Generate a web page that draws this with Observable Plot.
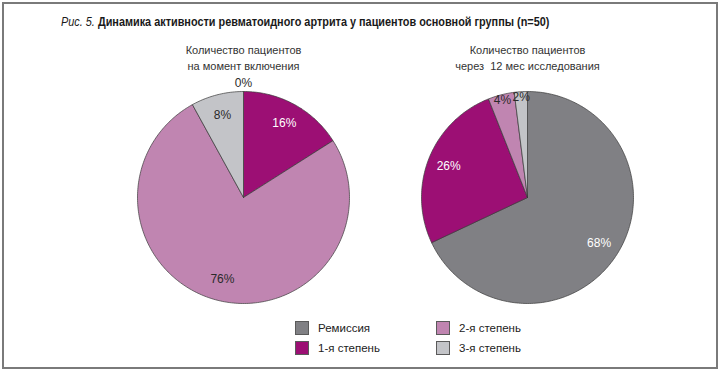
<!DOCTYPE html>
<html>
<head>
<meta charset="utf-8">
<script src="https://cdn.jsdelivr.net/npm/d3@7"></script>
<script src="https://cdn.jsdelivr.net/npm/@observablehq/plot@0.6"></script>
<style>
  html, body { margin: 0; padding: 0; background: #fff; }
  body { width: 720px; height: 371px; overflow: hidden; font-family: "Liberation Sans", Arial, sans-serif; color: #222; }
  #page { position: relative; width: 720px; height: 371px; }
  #frame { position: absolute; left: 2px; top: 2px; width: 712px; height: 363px; border: 2px solid #7a7a7a; }
  #title { position: absolute; left: 61px; top: 15px; font-size: 12.5px; font-weight: bold; white-space: nowrap; color: #1a1a1a; transform: scaleX(0.87); transform-origin: 0 50%; }
  #title i { font-weight: normal; }
  #chart { position: absolute; left: 0; top: 40px; }
  .legend-item { position: absolute; font-size: 11.5px; color: #222; display: flex; align-items: center; white-space: nowrap; height: 14px; }
  .legend-item span.sw { display: inline-block; width: 12px; height: 12px; border: 1px solid #5a5a5a; margin-right: 9px; }
</style>
</head>
<body>
<div id="page">
  <div id="frame"></div>
  <div id="title"></div>
  <div id="chart"></div>
  <div id="legend"></div>
</div>
<script>
// ---- data ----
const titlePrefix = "Рис. 5.";
const titleText = " Динамика активности ревматоидного артрита у пациентов основной группы (n=50)";
const categories = ["Ремиссия", "1-я степень", "2-я степень", "3-я степень"];
const colors = ["#808084", "#9c0f74", "#c085b1", "#c3c4c8"];
const labelColors = ["#ffffff", "#ffffff", "#2a2a2a", "#2a2a2a"];
const pieTitles = [
  ["Количество пациентов", "на момент включения"],
  ["Количество пациентов", "через  12 мес исследования"]
];
const valuesStart = [0, 16, 76, 8];
const valuesEnd = [68, 26, 4, 2];
const series = [valuesStart, valuesEnd];

// ---- layout ----
const W = 720, H = 270;
const R = 106;             // pie radius in px
const cx0 = 243, cy = 157; // left pie centre (svg px)
const gap = 284;           // distance between pie centres (px)
const titleTop = 13, titleLH = 16; // pie title baselines (svg px)

document.getElementById("title").innerHTML = `<i>${titlePrefix}</i>${titleText}`;

// build wedge polygons (units: radius = 1)
const wedges = [];
const labels = [];
const titles = [];
series.forEach((vals, p) => {
  const ox = p * gap / R;
  const arcs = d3.pie().sort(null).value(d => d)(vals);
  arcs.forEach((a, i) => {
    const id = `${p}-${i}`;
    wedges.push({id, cat: categories[i], x: ox, y: 0});
    const steps = Math.max(1, Math.ceil((a.endAngle - a.startAngle) / (Math.PI / 180)));
    for (let s = 0; s <= steps; s++) {
      const t = a.startAngle + (a.endAngle - a.startAngle) * s / steps;
      wedges.push({id, cat: categories[i], x: ox + Math.sin(t), y: Math.cos(t)});
    }
    wedges.push({id, cat: categories[i], x: ox, y: 0});
    const mid = (a.startAngle + a.endAngle) / 2;
    const v = vals[i];
    const lr = v === 0 ? 1.075 : v < 5 ? 0.95 : 0.8;
    labels.push({x: ox + Math.sin(mid) * lr, y: Math.cos(mid) * lr, text: v + "%",
                 fill: v === 0 ? "#2a2a2a" : labelColors[i]});
  });
  pieTitles[p].forEach((t, k) => titles.push({x: ox, y: (cy - titleTop - k * titleLH) / R, text: t}));
});

const plot = Plot.plot({
  width: W, height: H,
  margin: 0,
  x: {domain: [-cx0 / R, (W - cx0) / R], range: [0, W], axis: null},
  y: {domain: [-(H - cy) / R, cy / R], range: [H, 0], axis: null},
  color: {domain: categories, range: colors},
  style: {fontFamily: "Liberation Sans, Arial, sans-serif", background: "transparent"},
  marks: [
    Plot.line(wedges, {x: "x", y: "y", z: "id", fill: "cat", stroke: "#3a3a3a", strokeWidth: 0.7, strokeLinejoin: "round", curve: "linear"}),
    Plot.text(labels, {x: "x", y: "y", text: "text", fill: "fill", fontSize: 12, textAnchor: "middle"}),
    Plot.text(titles, {x: "x", y: "y", text: "text", fill: "#333", fontSize: 11, textAnchor: "middle", lineAnchor: "bottom"})
  ]
});
document.getElementById("chart").appendChild(plot);

// legend (two columns, two rows), colours from the plot's colour scale
const color = plot.scale("color");
const legendPos = [[295, 321], [295, 341], [436, 321], [436, 341]];
const legend = document.getElementById("legend");
categories.forEach((c, i) => {
  const el = document.createElement("div");
  el.className = "legend-item";
  el.style.left = legendPos[i][0] + "px";
  el.style.top = legendPos[i][1] + "px";
  el.innerHTML = `<span class="sw" style="background:${color.apply(c)}"></span>${c}`;
  legend.appendChild(el);
});
</script>
</body>
</html>
